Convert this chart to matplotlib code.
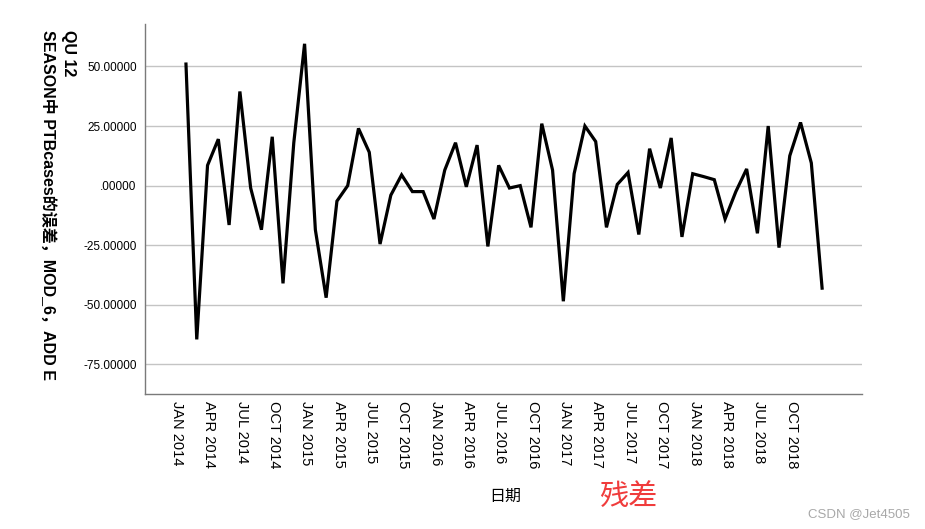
import matplotlib
matplotlib.use("Agg")
import matplotlib.pyplot as plt
import matplotlib.transforms as mtransforms
import numpy as np
import pandas as pd

plt.rcParams['font.family'] = ['Liberation Sans', 'Noto Sans CJK SC', 'DejaVu Sans']

# Monthly residuals, JAN 2014 .. DEC 2018
residuals_2014 = [51, -64.5, 8.5, 19.5, -16.5, 39.5, -1, -18.5, 20.5, -41, 18, 59.5]
residuals_2015 = [-18.5, -47, -6.5, 0, 24, 14, -24.5, -4, 4.5, -2.5, -2.5, -14]
residuals_2016 = [6.5, 18, -0.5, 17, -25.5, 8.5, -1, 0, -17.5, 26, 6.5, -48.5]
residuals_2017 = [5, 25, 18.5, -17.5, 0.5, 5.5, -20.5, 15.5, -1, 20, -21.5, 5]
residuals_2018 = [3.8, 2.5, -14, -2.5, 7, -20, 25, -26, 12.5, 26.5, 9.5, -43]
values = residuals_2014 + residuals_2015 + residuals_2016 + residuals_2017 + residuals_2018

dates = pd.date_range("2014-01-01", periods=len(values), freq="MS")
tick_dates = [d for d in dates if d.month in (1, 4, 7, 10)]
tick_labels = [d.strftime("%b %Y").upper() for d in tick_dates]

y_ticks = [-75, -50, -25, 0, 25, 50]
y_tick_labels = ["%.5f" % v if v != 0 else ".00000" for v in y_ticks]

y_title = "QU 12\nSEASON中 PTBcases的误差，MOD_6，ADD E"
x_title = "日期"

fig = plt.figure(figsize=(9.25, 5.29), dpi=100)
ax = fig.add_axes([145/925, 1 - 394/529, (862 - 145)/925, (394 - 24)/529])

x = np.arange(len(values))
ax.plot(x, values, color="black", linewidth=2.3, solid_joinstyle="miter", zorder=3)

ax.set_xlim(-3.8, 62.7)
ax.set_ylim(-87.4, 67.8)

tick_pos = [list(dates).index(d) for d in tick_dates]
ax.set_xticks(tick_pos)
ax.set_xticklabels(tick_labels, rotation=270, fontsize=10.5, va="top", ha="center")
ax.set_yticks(y_ticks)
ax.set_yticklabels(y_tick_labels, fontsize=8.5)
ax.tick_params(axis="both", length=0, pad=6)
ax.tick_params(axis="x", pad=5)
shift = mtransforms.ScaledTranslation(-9/100, 0, fig.dpi_scale_trans)
for lbl in ax.get_xticklabels():
    lbl.set_transform(lbl.get_transform() + shift)

ax.grid(axis="y", color="#c4c4c4", linewidth=1.0, zorder=1)
ax.set_axisbelow(True)
for s in ("top", "right"):
    ax.spines[s].set_visible(False)
for s in ("left", "bottom"):
    ax.spines[s].set_color("#7a7a7a")
    ax.spines[s].set_linewidth(1.0)

fig.text(58/925, 1 - 30/529, y_title, rotation=270, ha="center", va="top",
         multialignment="left", fontsize=11.5, fontweight="bold", linespacing=1.3)
fig.text(505/925, 1 - 496/529, x_title, ha="center", va="center", fontsize=11.5)
fig.text(628/925, 1 - 497/529, "残差", ha="center", va="center", fontsize=21,
         color="#f03c3c")
fig.text(910/925, 1 - 514/529, "CSDN @Jet4505", ha="right", va="center", fontsize=9.5,
         color="#a8a8a8")

fig.savefig("out.png", dpi=100)
